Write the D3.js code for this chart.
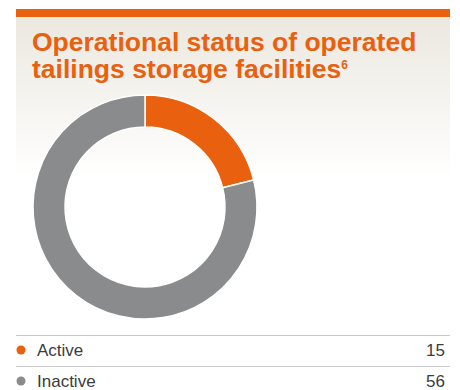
<!DOCTYPE html>
<html>
<head>
<meta charset="utf-8">
<script src="https://cdn.jsdelivr.net/npm/d3@7/dist/d3.min.js"></script>
<style>
  html, body { margin: 0; padding: 0; background: #ffffff; }
  svg { display: block; font-family: "Liberation Sans", Arial, sans-serif; }
</style>
</head>
<body>
<svg id="chart" width="460" height="390"></svg>
<script>
// Operational status of operated tailings storage facilities
const categories = ["Active", "Inactive"];
const values = [15, 56];
const colors = ["#e9600e", "#898b8c"];

const svg = d3.select("#chart");
const panelX0 = 16, panelX1 = 450;

// Soft beige-to-white backdrop behind the title
const defs = svg.append("defs");
const grad = defs.append("linearGradient")
  .attr("id", "bg").attr("x1", 0).attr("y1", 0).attr("x2", 0).attr("y2", 1);
grad.append("stop").attr("offset", "0%").attr("stop-color", "#ebe8df");
grad.append("stop").attr("offset", "100%").attr("stop-color", "#ffffff");

svg.append("rect")
  .attr("x", panelX0).attr("y", 17)
  .attr("width", panelX1 - panelX0).attr("height", 163)
  .attr("fill", "url(#bg)");

// Orange header bar
svg.append("rect")
  .attr("x", panelX0).attr("y", 9)
  .attr("width", panelX1 - panelX0).attr("height", 8)
  .attr("fill", "#e9600e");

// Title
const title = svg.append("text")
  .attr("x", 32).attr("fill", "#e9600e")
  .attr("font-size", 26.5).attr("font-weight", "bold");
title.append("tspan").attr("x", 32).attr("y", 51).text("Operational status of operated");
title.append("tspan").attr("x", 32).attr("y", 78).text("tailings storage facilities");
title.append("tspan").attr("dy", -9).attr("font-size", 12).text("6");

// Donut
const cx = 145, cy = 207;
const pie = d3.pie().sort(null).value(d => d.value);
const arc = d3.arc().innerRadius(80).outerRadius(112);
const data = categories.map((c, i) => ({ name: c, value: values[i], color: colors[i] }));

svg.append("g")
  .attr("transform", `translate(${cx},${cy})`)
  .selectAll("path")
  .data(pie(data))
  .join("path")
  .attr("d", arc)
  .attr("fill", d => d.data.color)
  .attr("stroke", "#ffffff")
  .attr("stroke-width", 1.5);

// Legend table
const rowY = d3.scaleBand().domain(categories).range([335, 397]).paddingInner(0);
const legend = svg.append("g");
categories.forEach((c, i) => {
  const y0 = rowY(c);
  legend.append("line")
    .attr("x1", panelX0).attr("x2", panelX1)
    .attr("y1", y0 + 0.5).attr("y2", y0 + 0.5)
    .attr("stroke", "#c8c8c8").attr("stroke-width", 1);
  const mid = y0 + 15;
  legend.append("circle")
    .attr("cx", 21).attr("cy", mid).attr("r", 4.5)
    .attr("fill", colors[i]);
  legend.append("text")
    .attr("x", 37).attr("y", mid + 6)
    .attr("font-size", 17).attr("fill", "#3c3c3c")
    .text(c);
  legend.append("text")
    .attr("x", 445).attr("y", mid + 6)
    .attr("text-anchor", "end")
    .attr("font-size", 17).attr("fill", "#3c3c3c")
    .text(values[i]);
});
</script>
</body>
</html>
